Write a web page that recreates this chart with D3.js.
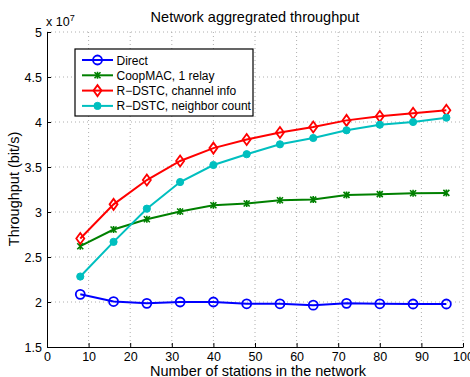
<!DOCTYPE html>
<html>
<head>
<meta charset="utf-8">
<script src="https://d3js.org/d3.v7.min.js"></script>
<style>
  body { margin: 0; background: #fff; }
  text { font-family: "Liberation Sans", Arial, sans-serif; fill: #000; }
</style>
</head>
<body>
<div id="chart"></div>
<script>
// data (throughput in units of 1e7 bit/s)
const stations = [8, 16, 24, 32, 40, 48, 56, 64, 72, 80, 88, 96];
const direct = [2.085, 2.005, 1.985, 2.0, 2.0, 1.98, 1.98, 1.965, 1.985, 1.98, 1.978, 1.978];
const coopMAC = [2.62, 2.805, 2.92, 3.005, 3.075, 3.095, 3.13, 3.138, 3.19, 3.198, 3.208, 3.212];
const channelInfo = [2.705, 3.085, 3.355, 3.567, 3.71, 3.805, 3.883, 3.944, 4.018, 4.063, 4.097, 4.13];
const neighborCount = [2.283, 2.668, 3.037, 3.333, 3.522, 3.642, 3.752, 3.822, 3.908, 3.97, 4.0, 4.048];
const seriesNames = ["Direct", "CoopMAC, 1 relay", "R\u2212DSTC, channel info", "R\u2212DSTC, neighbor count"];
const xTicks = [0, 10, 20, 30, 40, 50, 60, 70, 80, 90, 100];
const yTicks = [1.5, 2, 2.5, 3, 3.5, 4, 4.5, 5];

const W = 470, H = 377;
const margin = { top: 32, right: 7, bottom: 30, left: 47 };
const width = W - margin.left - margin.right,
      height = H - margin.top - margin.bottom;

const svg = d3.select("#chart").append("svg")
  .attr("width", W).attr("height", H);
const g = svg.append("g").attr("transform", `translate(${margin.left},${margin.top})`);

const x = d3.scaleLinear().domain([0, 100]).range([0, width]);
const y = d3.scaleLinear().domain([1.5, 5]).range([height, 0]);

// grid
g.append("g").selectAll("line").data(xTicks.slice(1)).join("line")
  .attr("x1", d => x(d)).attr("x2", d => x(d)).attr("y1", 0).attr("y2", height)
  .attr("stroke", "#999").attr("stroke-width", 0.8).attr("stroke-dasharray", "1,3");
g.append("g").selectAll("line").data(yTicks.slice(1)).join("line")
  .attr("x1", 0).attr("x2", width).attr("y1", d => y(d)).attr("y2", d => y(d))
  .attr("stroke", "#999").attr("stroke-width", 0.8).attr("stroke-dasharray", "1,3");

// axes
const xAxis = g.append("g").attr("transform", `translate(0,${height})`)
  .call(d3.axisBottom(x).tickValues(xTicks).tickSizeInner(-4).tickSizeOuter(0).tickPadding(5));
const yAxis = g.append("g")
  .call(d3.axisLeft(y).tickValues(yTicks).tickFormat(d3.format("")).tickSizeInner(-4).tickSizeOuter(0).tickPadding(5));
[xAxis, yAxis].forEach(a => {
  a.select(".domain").attr("stroke", "#000").attr("stroke-width", 1);
  a.selectAll(".tick line").attr("stroke", "#000");
  a.selectAll("text").style("font-size", "12.5px").style("font-family", "Liberation Sans, Arial, sans-serif");
});

// series
const series = [
  { name: seriesNames[0], values: direct, color: "#0000ff", marker: "circle" },
  { name: seriesNames[1], values: coopMAC, color: "#008000", marker: "star" },
  { name: seriesNames[2], values: channelInfo, color: "#ff0000", marker: "diamond" },
  { name: seriesNames[3], values: neighborCount, color: "#00bfbf", marker: "dot" }
];

function drawMarker(sel, type, color) {
  if (type === "circle") {
    sel.append("circle").attr("r", 4.5).attr("fill", "none").attr("stroke", color).attr("stroke-width", 1.8);
  } else if (type === "diamond") {
    sel.append("path").attr("d", "M0,-5.5L4,0L0,5.5L-4,0Z")
      .attr("fill", "none").attr("stroke", color).attr("stroke-width", 1.8);
  } else if (type === "dot") {
    sel.append("circle").attr("r", 3.6).attr("fill", color).attr("stroke", color);
  } else {
    sel.append("path").attr("d", "M-3,-3L3,3M-3,3L3,-3M0,-3.5L0,3.5")
      .attr("stroke", color).attr("stroke-width", 1.6);
  }
}

const line = d3.line().x(d => x(d[0])).y(d => y(d[1]));
series.forEach(s => {
  const pts = stations.map((st, i) => [st, s.values[i]]);
  g.append("path").datum(pts).attr("d", line)
    .attr("fill", "none").attr("stroke", s.color).attr("stroke-width", 2);
  g.append("g").selectAll("g").data(pts).join("g")
    .attr("transform", d => `translate(${x(d[0])},${y(d[1])})`)
    .each(function () { drawMarker(d3.select(this), s.marker, s.color); });
});

// legend
const lg = svg.append("g").attr("transform", "translate(75,49)");
lg.append("rect").attr("width", 178).attr("height", 67)
  .attr("fill", "#fff").attr("stroke", "#000").attr("stroke-width", 1.2);
series.forEach((s, i) => {
  const row = lg.append("g").attr("transform", `translate(0,${11 + i * 15.3})`);
  row.append("line").attr("x1", 7).attr("x2", 38).attr("stroke", s.color).attr("stroke-width", 2);
  drawMarker(row.append("g").attr("transform", "translate(22.5,0)"), s.marker, s.color);
  row.append("text").attr("x", 41.5).attr("y", 4.5).style("font-size", "12px").text(s.name);
});

// titles
svg.append("text").attr("x", 255).attr("y", 22).attr("text-anchor", "middle")
  .style("font-size", "14.5px").text("Network aggregrated throughput");
svg.append("text").attr("x", 258).attr("y", 375.5).attr("text-anchor", "middle")
  .style("font-size", "14.5px").text("Number of stations in the network");
svg.append("text").attr("transform", "translate(19,189) rotate(-90)").attr("text-anchor", "middle")
  .style("font-size", "14.5px").text("Throughput (bit/s)");
const ex = svg.append("text").attr("x", 46).attr("y", 26).style("font-size", "12.5px");
ex.append("tspan").text("x 10");
ex.append("tspan").attr("dy", -5).style("font-size", "9px").text("7");
</script>
</body>
</html>
